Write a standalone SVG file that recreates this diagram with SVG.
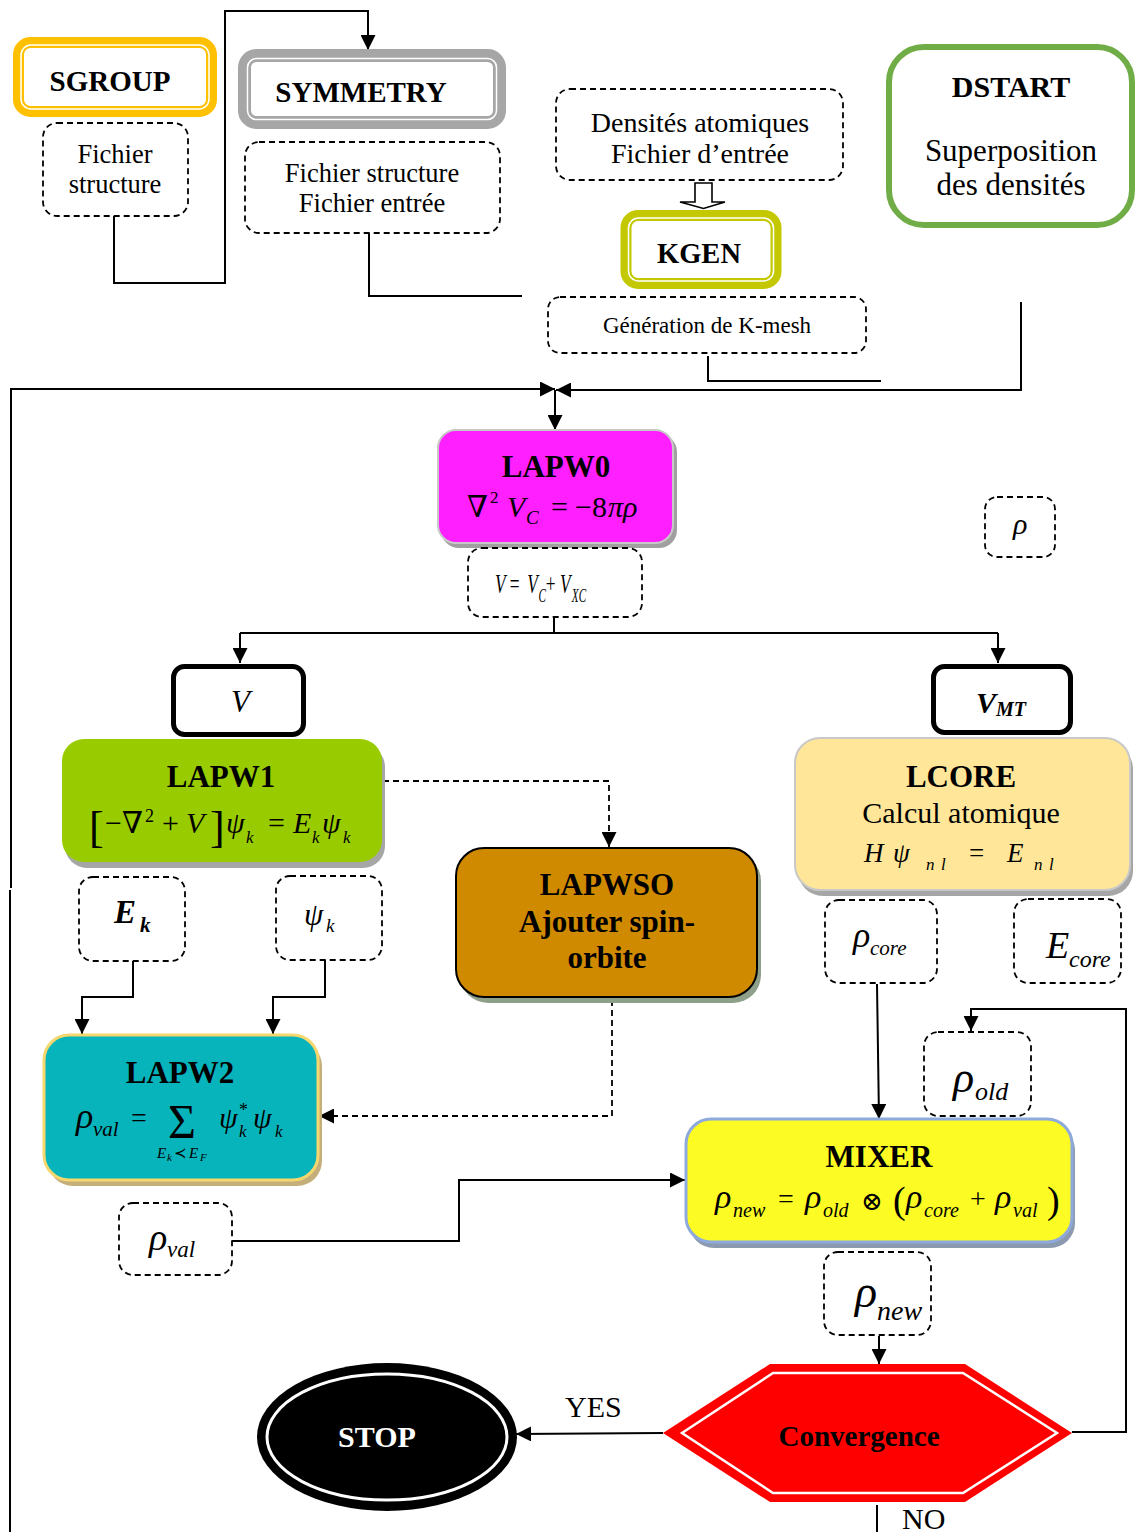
<svg xmlns="http://www.w3.org/2000/svg" width="1137" height="1532" viewBox="0 0 1137 1532">
<defs>
<style>
.t{font-family:"Liberation Serif","DejaVu Serif",serif;fill:#000}
.b{font-weight:bold}
.i{font-style:italic}
.c{text-anchor:middle}
.dash{fill:none;stroke:#000;stroke-width:1.8;stroke-dasharray:6 4}
.ln{fill:none;stroke:#000;stroke-width:2}
.dl{fill:none;stroke:#000;stroke-width:1.8;stroke-dasharray:6 4}
</style>
<marker id="ah" markerWidth="15" markerHeight="15" refX="15" refY="7.5" orient="auto" markerUnits="userSpaceOnUse">
<path d="M0,0 L15,7.5 L0,15 z" fill="#000"/>
</marker>
</defs>
<rect width="1137" height="1532" fill="#fff"/>

<g id="connectors">
<path class="ln" d="M114,216 V283 H225 V11 H368 V50" marker-end="url(#ah)"/>
<path class="ln" d="M369,233 V296 H522"/>
<path class="ln" d="M708,356 V381 H881"/>
<path class="ln" d="M1021,302 V390 H556" marker-end="url(#ah)"/>
<path class="ln" d="M11,888 V389 H555" marker-end="url(#ah)"/>
<path class="ln" d="M10,890 V1532"/>
<path class="ln" d="M555,390 V430" marker-end="url(#ah)"/>
<path class="ln" d="M554,617 V633"/>
<path class="ln" d="M240,633 H998"/>
<path class="ln" d="M240,633 V663" marker-end="url(#ah)"/>
<path class="ln" d="M998,633 V663" marker-end="url(#ah)"/>
<path class="dl" d="M383,781 H609 V847" marker-end="url(#ah)"/>
<path class="dl" d="M612,1000 V1116 H319" marker-end="url(#ah)"/>
<path class="ln" d="M133,961 V997 H82 V1034" marker-end="url(#ah)"/>
<path class="ln" d="M325,960 V997 H273 V1034" marker-end="url(#ah)"/>
<path class="ln" d="M232,1241 H459 V1180 H685" marker-end="url(#ah)"/>
<path class="ln" d="M877,984 L879,1119" marker-end="url(#ah)"/>
<path class="ln" d="M1072,1432 H1126 V1009 H971 V1031" marker-end="url(#ah)"/>
<path class="ln" d="M879,1336 V1364" marker-end="url(#ah)"/>
<path class="ln" d="M663,1433 L516,1434" marker-end="url(#ah)"/>
<path class="ln" d="M877,1505 V1532"/>
<polygon points="695,183 712,183 712,202 725,202 703.5,208.5 680,202 695,202" fill="#fff" stroke="#000" stroke-width="1.6"/>
<text class="t" x="565" y="1417" font-size="30">YES</text>
<text class="t" x="902" y="1529" font-size="30">NO</text>
</g>

<g id="sgroup">
<rect x="18.5" y="42.5" width="193" height="69" rx="12" fill="#fff" stroke="#FFC000" stroke-width="11"/>
<rect x="21" y="45" width="188" height="64" rx="10" fill="none" stroke="#fff" stroke-width="1.5"/>
<text class="t b c" x="110" y="91" font-size="29">SGROUP</text>
</g>
<g id="sgroup-file">
<rect class="dash" x="43" y="123" width="145" height="93" rx="14"/>
<text class="t c" x="115" y="163" font-size="26.5">Fichier</text>
<text class="t c" x="115" y="193" font-size="26.5">structure</text>
</g>

<g id="symmetry">
<rect x="244.5" y="55.5" width="255" height="67" rx="12" fill="#fff" stroke="#A6A6A6" stroke-width="13"/>
<rect x="247.5" y="58.5" width="249" height="61" rx="9" fill="none" stroke="#fff" stroke-width="1.5"/>
<text class="t b c" x="361" y="102" font-size="29">SYMMETRY</text>
</g>
<g id="symmetry-file">
<rect class="dash" x="245" y="142" width="255" height="91" rx="14"/>
<text class="t c" x="372" y="182" font-size="26.5">Fichier structure</text>
<text class="t c" x="372" y="212" font-size="26.5">Fichier entrée</text>
</g>

<g id="densites">
<rect class="dash" x="556" y="89" width="287" height="91" rx="14"/>
<text class="t c" x="700" y="132" font-size="28">Densités atomiques</text>
<text class="t c" x="700" y="163" font-size="28">Fichier d’entrée</text>
</g>

<g id="kgen">
<rect x="626" y="215.5" width="150" height="68" rx="12" fill="#fff" stroke="#C4C800" stroke-width="11"/>
<rect x="628.5" y="218" width="145" height="63" rx="10" fill="none" stroke="#fff" stroke-width="1.5"/>
<text class="t b c" x="699" y="263" font-size="28.5">KGEN</text>
</g>
<g id="kmesh">
<rect class="dash" x="548" y="297" width="318" height="56" rx="12"/>
<text class="t c" x="707" y="333" font-size="23">Génération de K-mesh</text>
</g>

<g id="dstart">
<rect x="889" y="47" width="243" height="178" rx="35" fill="#fff" stroke="#70AD47" stroke-width="6"/>
<text class="t b c" x="1011" y="97" font-size="30">DSTART</text>
<text class="t c" x="1011" y="161" font-size="31">Superposition</text>
<text class="t c" x="1011" y="195" font-size="31">des densités</text>
</g>

<g id="rho">
<rect class="dash" x="985" y="497" width="70" height="60" rx="12"/>
<text class="t i" x="1013" y="534" font-size="30">ρ</text>
</g>

<g id="lapw0">
<rect x="441" y="434" width="236" height="114" rx="18" fill="#A0A0A0"/>
<rect x="438" y="430" width="235" height="113" rx="18" fill="#FF1FFF" stroke="#C8C8C8" stroke-width="2"/>
<text class="t b c" x="556" y="477" font-size="31">LAPW0</text>
<text class="t" x="467" y="517" font-size="30">∇</text>
<text class="t" x="490" y="503" font-size="17">2</text>
<text class="t i" x="507" y="517" font-size="30">V</text>
<text class="t i" x="526" y="524" font-size="19">C</text>
<text class="t" x="551" y="517" font-size="30">=</text>
<text class="t" x="575" y="517" font-size="30">−8</text>
<text class="t i" x="608" y="517" font-size="30">πρ</text>
</g>

<g id="v-sum">
<rect class="dash" x="468" y="548" width="174" height="69" rx="14"/>
<g transform="translate(495,593) scale(0.62,1)">
<text class="t i" x="0" y="0" font-size="28">V</text>
<text class="t" x="24" y="0" font-size="28">=</text>
<text class="t i" x="52" y="0" font-size="28">V</text>
<text class="t i" x="70" y="9" font-size="18">C</text>
<text class="t" x="82" y="0" font-size="28">+</text>
<text class="t i" x="105" y="0" font-size="28">V</text>
<text class="t i" x="124" y="9" font-size="18">XC</text>
</g>
</g>

<g id="v-box">
<rect x="173.5" y="666.5" width="130" height="68" rx="11" fill="#fff" stroke="#000" stroke-width="5"/>
<text class="t i" x="231" y="712" font-size="31">V</text>
</g>

<g id="vmt-box">
<rect x="933.5" y="666.5" width="137" height="66" rx="11" fill="#fff" stroke="#000" stroke-width="5"/>
<text class="t b i" x="976" y="713" font-size="30">V</text>
<text class="t b i" x="996" y="716" font-size="20">MT</text>
</g>

<g id="lapw1">
<rect x="65" y="745" width="320" height="123" rx="22" fill="#A6A6A6"/>
<rect x="62" y="739" width="320" height="123" rx="22" fill="#99CC00"/>
<text class="t b c" x="221" y="787" font-size="31">LAPW1</text>
<text class="t" x="89" y="842" font-size="44">[</text>
<text class="t" x="105" y="833" font-size="30">−∇</text>
<text class="t" x="145" y="822" font-size="18">2</text>
<text class="t" x="162" y="833" font-size="30">+</text>
<text class="t i" x="186" y="833" font-size="30">V</text>
<text class="t" x="210" y="842" font-size="44">]</text>
<text class="t i" x="226" y="833" font-size="30">ψ</text>
<text class="t i" x="246" y="843" font-size="17">k</text>
<text class="t" x="268" y="833" font-size="30">=</text>
<text class="t i" x="293" y="833" font-size="30">E</text>
<text class="t i" x="312" y="843" font-size="17">k</text>
<text class="t i" x="322" y="833" font-size="30">ψ</text>
<text class="t i" x="343" y="843" font-size="17">k</text>
</g>

<g id="ek">
<rect class="dash" x="79" y="877" width="106" height="84" rx="14"/>
<text class="t b i" x="114" y="923" font-size="33">E</text>
<text class="t b i" x="140" y="932" font-size="21">k</text>
</g>
<g id="psik">
<rect class="dash" x="276" y="876" width="106" height="84" rx="14"/>
<text class="t i" x="304" y="925" font-size="31">ψ</text>
<text class="t i" x="326" y="932" font-size="19">k</text>
</g>

<g id="lapwso">
<rect x="460" y="853" width="301" height="150" rx="28" fill="#8FA08A"/>
<rect x="456" y="848" width="301" height="149" rx="28" fill="#D08A00" stroke="#000" stroke-width="2"/>
<text class="t b c" x="607" y="895" font-size="31">LAPWSO</text>
<text class="t b c" x="607" y="932" font-size="31">Ajouter spin-</text>
<text class="t b c" x="607" y="968" font-size="31">orbite</text>
</g>

<g id="lapw2">
<rect x="48" y="1041" width="274" height="145" rx="25" fill="#C4AE7A"/>
<rect x="44" y="1035" width="274" height="145" rx="25" fill="#08B4BC" stroke="#F5D76E" stroke-width="3"/>
<text class="t b c" x="180" y="1083" font-size="31">LAPW2</text>
<text class="t i" x="76" y="1128" font-size="36">ρ</text>
<text class="t i" x="93" y="1136" font-size="21">val</text>
<text class="t" x="131" y="1127" font-size="28">=</text>
<text class="t" x="168" y="1138" font-size="48">Σ</text>
<text class="t i" x="157" y="1158" font-size="15">E</text>
<text class="t i" x="167" y="1161" font-size="11">k</text>
<text class="t" x="174" y="1158" font-size="15">≺</text>
<text class="t i" x="189" y="1158" font-size="15">E</text>
<text class="t i" x="200" y="1161" font-size="11">F</text>
<text class="t i" x="219" y="1128" font-size="30">ψ</text>
<text class="t" x="239" y="1116" font-size="18">*</text>
<text class="t i" x="239" y="1137" font-size="17">k</text>
<text class="t i" x="253" y="1128" font-size="30">ψ</text>
<text class="t i" x="275" y="1137" font-size="17">k</text>
</g>

<g id="rho-val">
<rect class="dash" x="119" y="1203" width="113" height="72" rx="14"/>
<text class="t i" x="149" y="1250" font-size="38">ρ</text>
<text class="t i" x="167" y="1257" font-size="23">val</text>
</g>

<g id="lcore">
<rect x="798" y="744" width="335" height="152" rx="25" fill="#A6A6A6"/>
<rect x="795" y="738" width="335" height="152" rx="25" fill="#FFE699" stroke="#C8C8C8" stroke-width="2"/>
<text class="t b c" x="961" y="787" font-size="31">LCORE</text>
<text class="t c" x="961" y="823" font-size="30">Calcul atomique</text>
<text class="t i" x="864" y="862" font-size="27" fill="#333">H</text>
<text class="t i" x="893" y="862" font-size="27" fill="#333">ψ</text>
<text class="t i" x="926" y="870" font-size="17" fill="#333">n</text>
<text class="t i" x="941" y="870" font-size="17" fill="#333">l</text>
<text class="t" x="969" y="862" font-size="27" fill="#333">=</text>
<text class="t i" x="1007" y="862" font-size="27" fill="#333">E</text>
<text class="t i" x="1034" y="870" font-size="17" fill="#333">n</text>
<text class="t i" x="1049" y="870" font-size="17" fill="#333">l</text>
</g>

<g id="rho-core">
<rect class="dash" x="825" y="900" width="112" height="83" rx="14"/>
<text class="t i" x="853" y="947" font-size="36">ρ</text>
<text class="t i" x="870" y="955" font-size="21">core</text>
</g>
<g id="e-core">
<rect class="dash" x="1014" y="899" width="107" height="84" rx="14"/>
<text class="t i" x="1046" y="958" font-size="38">E</text>
<text class="t i" x="1069" y="967" font-size="24">core</text>
</g>

<g id="rho-old">
<rect class="dash" x="924" y="1032" width="107" height="84" rx="14"/>
<text class="t i" x="953" y="1092" font-size="44">ρ</text>
<text class="t i" x="975" y="1100" font-size="26">old</text>
</g>

<g id="mixer">
<rect x="689" y="1125" width="386" height="123" rx="25" fill="#8C9AB0"/>
<rect x="686" y="1119" width="386" height="123" rx="25" fill="#FCFC24" stroke="#8EA9DB" stroke-width="3"/>
<text class="t b c" x="879" y="1167" font-size="31">MIXER</text>
<text class="t i" x="715" y="1208" font-size="34">ρ</text>
<text class="t i" x="733" y="1217" font-size="20">new</text>
<text class="t" x="778" y="1208" font-size="28">=</text>
<text class="t i" x="805" y="1208" font-size="34">ρ</text>
<text class="t i" x="823" y="1217" font-size="20">old</text>
<text class="t" x="861" y="1210" font-size="26">⊗</text>
<text class="t" x="893" y="1213" font-size="38">(</text>
<text class="t i" x="906" y="1208" font-size="34">ρ</text>
<text class="t i" x="924" y="1217" font-size="20">core</text>
<text class="t" x="970" y="1208" font-size="28">+</text>
<text class="t i" x="995" y="1208" font-size="34">ρ</text>
<text class="t i" x="1013" y="1217" font-size="20">val</text>
<text class="t" x="1047" y="1213" font-size="38">)</text>
</g>

<g id="rho-new">
<rect class="dash" x="824" y="1252" width="107" height="83" rx="14"/>
<text class="t i" x="855" y="1307" font-size="46">ρ</text>
<text class="t i" x="877" y="1320" font-size="28">new</text>
</g>

<g id="convergence">
<polygon points="663,1433 770,1364 965,1364 1072,1433 965,1502 770,1502" fill="#FF0000"/>
<polygon points="682,1433 773,1373 963,1373 1057,1433 963,1493 773,1493" fill="none" stroke="#fff" stroke-width="2.5"/>
<text class="t b c" x="859" y="1446" font-size="29">Convergence</text>
</g>

<g id="stop">
<ellipse cx="387" cy="1437" rx="130" ry="74" fill="#000"/>
<ellipse cx="387" cy="1437" rx="120" ry="63" fill="none" stroke="#fff" stroke-width="3"/>
<text class="t b c" x="377" y="1447" font-size="30" style="fill:#fff">STOP</text>
</g>
</svg>
